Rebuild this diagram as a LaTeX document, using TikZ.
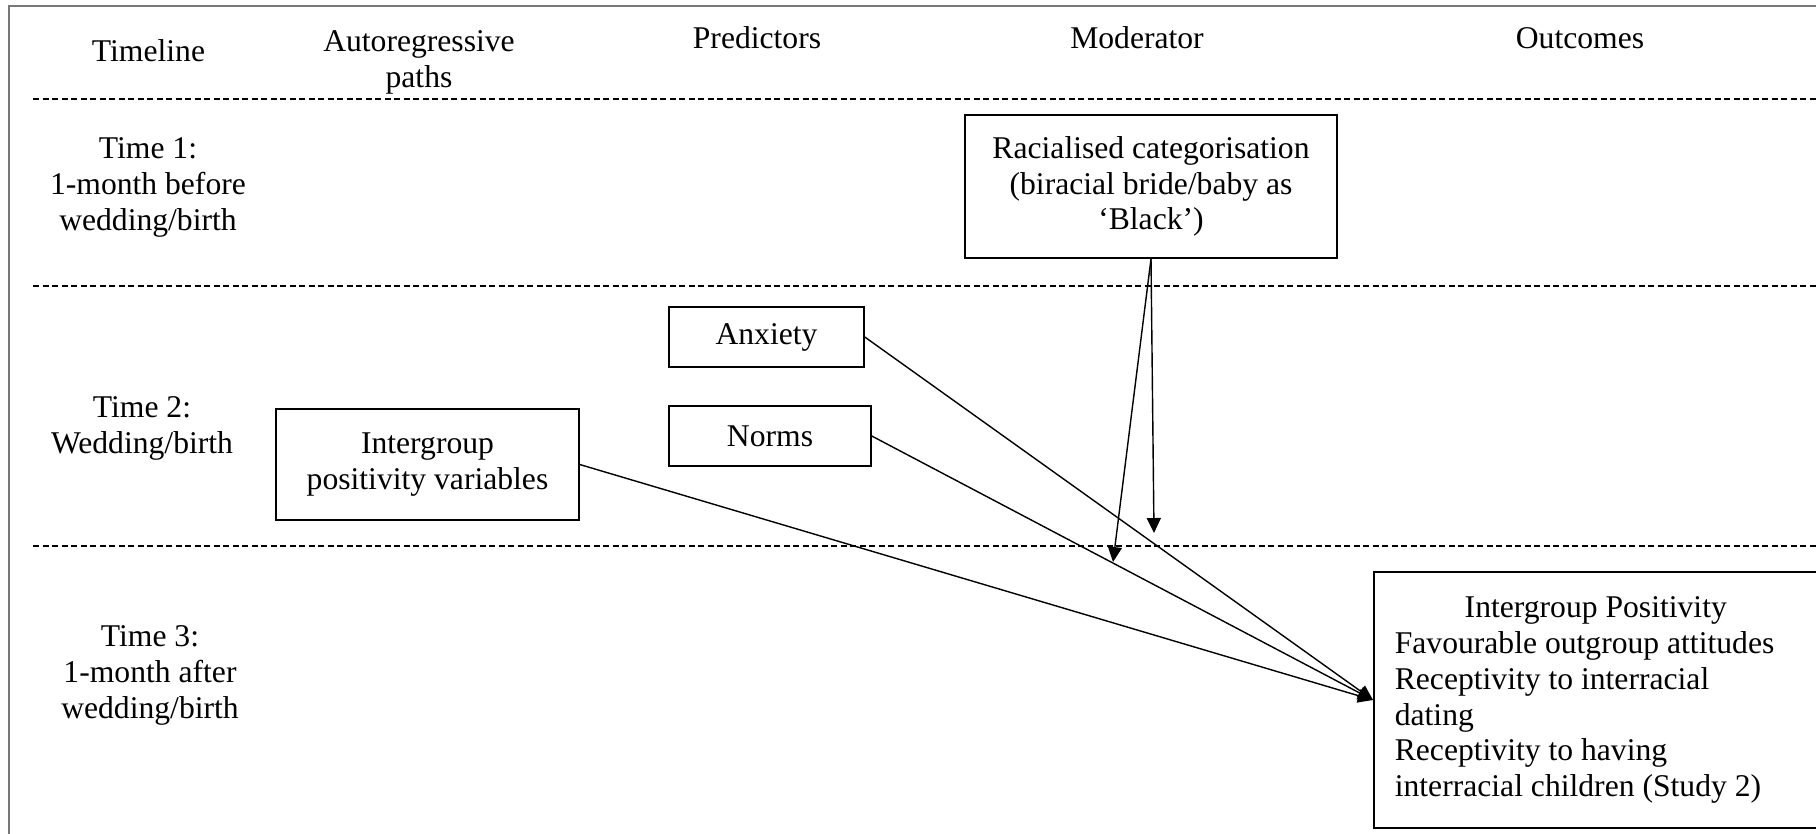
\documentclass[tikz,border=0pt]{standalone}
\usepackage{fontspec}
\setmainfont{Liberation Serif}
\usetikzlibrary{arrows.meta}

\begin{document}
\begin{tikzpicture}[font=\fontsize{9}{10.2}\selectfont,
    rc_box/.style={shape=rectangle,draw,line width=0.45pt,inner sep=0pt,align=center},
    rc_text/.style={align=center,inner sep=0pt,anchor=base},
    rc_path/.style={line width=0.4pt,-{Triangle[length=1.5mm,width=1.4mm]}},
    rc_row/.style={line width=0.4pt,dash pattern=on 0.06cm off 0.035cm}]
    \definecolor{rc_frame}{RGB}{120,120,120}
    \useasboundingbox (0,0) rectangle (18.16,-8.33);
    \draw[rc_frame,line width=0.6pt] (0.09,-8.40) -- (0.09,-0.06) -- (18.25,-0.06);
    \foreach \y in {0.99,2.86,5.46}
        \draw[rc_row] (0.33,-\y) -- (18.16,-\y);
    % column heads (base = last line)
    \node[rc_text] (head_time) at (1.485,-0.61) {Timeline};
    \node[rc_text] (head_auto) at (4.19,-0.87) {Autoregressive\\paths};
    \node[rc_text] (head_pred) at (7.57,-0.48) {Predictors};
    \node[rc_text] (head_mod)  at (11.37,-0.48) {Moderator};
    \node[rc_text] (head_out)  at (15.80,-0.48) {Outcomes};
    % time points
    \node[rc_text] (time_one)   at (1.48,-2.30) {Time 1:\\1-month before\\wedding/birth};
    \node[rc_text] (time_two)   at (1.42,-4.53) {Time 2:\\Wedding/birth};
    \node[rc_text] (time_three) at (1.50,-7.18) {Time 3:\\1-month after\\wedding/birth};
    % boxes
    \node[rc_box,minimum width=3.72cm,minimum height=1.43cm] (rcat) at (11.51,-1.865) {Racialised categorisation\\(biracial bride/baby as\\‘Black’)};
    \node[rc_box,minimum width=1.95cm,minimum height=0.60cm] (anx)  at (7.665,-3.37) {Anxiety};
    \node[rc_box,minimum width=2.02cm,minimum height=0.60cm] (norms) at (7.70,-4.36) {Norms};
    \node[rc_box,minimum width=3.03cm,minimum height=1.11cm] (ipv)  at (4.275,-4.645) {Intergroup\\positivity variables};
    \node[rc_box,align=left,inner xsep=0.21cm,minimum height=2.56cm,anchor=west] (out) at (13.73,-7.00)
        {\makebox[4.02cm]{Intergroup Positivity}\\Favourable outgroup attitudes\\Receptivity to interracial\\dating\\Receptivity to having\\interracial children (Study 2)};
    % paths
    \coordinate (mod_a) at (11.13,-5.62);
    \coordinate (mod_b) at (11.54,-5.33);
    \draw[rc_path] (anx.east) -- (out.west);
    \draw[rc_path] (norms.east) -- (out.west);
    \draw[rc_path] (ipv.east) -- (out.west);
    \draw[rc_path] (rcat.south) -- (mod_a);
    \draw[rc_path] (rcat.south) -- (mod_b);
\end{tikzpicture}
\end{document}
